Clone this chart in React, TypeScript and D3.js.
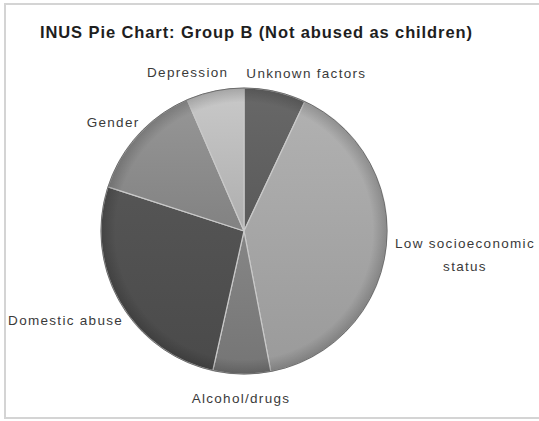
import React, { useMemo } from "react";
import * as d3 from "d3";

const title = "INUS Pie Chart: Group B (Not abused as children)";
const categories = [
  "Unknown factors",
  "Low socioeconomic status",
  "Alcohol/drugs",
  "Domestic abuse",
  "Gender",
  "Depression",
];
const values = [7, 40, 6.5, 26.5, 13.5, 6.5];
const colors = ["#5f5f5f", "#a2a2a2", "#7b7b7b", "#4e4e4e", "#898989", "#b8b8b8"];

const W = 539;
const H = 421;
const cx = 244;
const cy = 231;
const R = 143;
const LABEL_FONT = 13.5;
const LABEL_LS = 1.3;
const LINE_H = 23;

function splitLabel(s: string): string[] {
  if (s.length <= 18) return [s];
  const i = s.lastIndexOf(" ");
  return [s.slice(0, i), s.slice(i + 1)];
}

let ctx: CanvasRenderingContext2D | null = null;
function measure(s: string): number {
  if (!ctx) ctx = document.createElement("canvas").getContext("2d");
  if (!ctx) return s.length * 7;
  ctx.font = `${LABEL_FONT}px 'Liberation Sans', Arial, sans-serif`;
  return ctx.measureText(s).width + LABEL_LS * s.length;
}

export default function App() {
  const pie = d3.pie<number>().sort(null).value((d) => d).startAngle(0).endAngle(2 * Math.PI);
  const arcs = pie(values);
  const arcGen = d3.arc<d3.PieArcDatum<number>>().innerRadius(0).outerRadius(R);

  const labels = useMemo(() => {
    const gap = 12;
    const ls = arcs.map((a, i) => {
      const th = (a.startAngle + a.endAngle) / 2;
      const lines = splitLabel(categories[i]);
      const w = Math.max(...lines.map(measure));
      const h = 12 + (lines.length - 1) * LINE_H;
      const s = Math.sin(th);
      const c = Math.cos(th);
      const px = cx + (R + gap) * s;
      const py = cy - (R + gap) * c;
      const fx = 1 - 0.25 * Math.abs(c);
      const extra = c < 0 ? -c * 7 + Math.abs(s * c) * 16 : 0;
      return { lines, w, h, x: px + (s * w * fx) / 2, y: py - (c * h) / 2 + extra };
    });
    // simple collision resolution: push horizontally apart
    const minGap = 18;
    for (let iter = 0; iter < 5; iter++) {
      for (let i = 0; i < ls.length; i++) {
        for (let j = i + 1; j < ls.length; j++) {
          const a = ls[i];
          const b = ls[j];
          const vOverlap = Math.abs(a.y - b.y) < (a.h + b.h) / 2;
          if (!vOverlap) continue;
          const [l, r] = a.x < b.x ? [a, b] : [b, a];
          const need = l.w / 2 + r.w / 2 + minGap - (r.x - l.x);
          if (need > 0) {
            l.x -= need / 2;
            r.x += need / 2;
          }
        }
      }
    }
    return ls;
  }, []);

  return (
    <svg
      width={W}
      height={H}
      style={{ position: "fixed", left: 0, top: 0, background: "#fff" }}
      fontFamily="'Liberation Sans', Arial, sans-serif"
    >
      <defs>
        {colors.map((c, i) => {
          const base = d3.color(c)!;
          return (
            <linearGradient key={i} id={`g${i}`} x1="0" y1="0" x2="0" y2="1">
              <stop offset="0%" stopColor={base.brighter(0.25).formatHex()} />
              <stop offset="100%" stopColor={base.darker(0.15).formatHex()} />
            </linearGradient>
          );
        })}
        <radialGradient id="rim" cx="0.5" cy="0.5" r="0.5">
          <stop offset="0%" stopColor="#000" stopOpacity={0} />
          <stop offset="90%" stopColor="#000" stopOpacity={0} />
          <stop offset="100%" stopColor="#000" stopOpacity={0.18} />
        </radialGradient>
      </defs>
      <rect x={5} y={4} width={W + 10} height={414} fill="#fff" stroke="#d4d4d4" strokeWidth={2} />
      <text
        x={40}
        y={38}
        fontSize={16.5}
        fontWeight="bold"
        letterSpacing={0.9}
        fill="#1e1e1e"
      >
        {title}
      </text>
      <g transform={`translate(${cx},${cy})`}>
        {arcs.map((a, i) => (
          <path key={i} d={arcGen(a) || ""} fill={`url(#g${i})`} stroke="#c9c9c9" strokeWidth={1.2} strokeLinejoin="round" />
        ))}
        <circle r={R} fill="url(#rim)" />
        <circle r={R} fill="none" stroke="#6c6c6c" strokeWidth={1} />
      </g>
      {labels.map((l, i) => (
        <text
          key={i}
          textAnchor="middle"
          fontSize={LABEL_FONT}
          letterSpacing={LABEL_LS}
          fill="#3a3a3a"
        >
          {l.lines.map((t, k) => (
            <tspan key={k} x={l.x} y={l.y + 4 + (k - (l.lines.length - 1) / 2) * LINE_H}>
              {t}
            </tspan>
          ))}
        </text>
      ))}
    </svg>
  );
}
